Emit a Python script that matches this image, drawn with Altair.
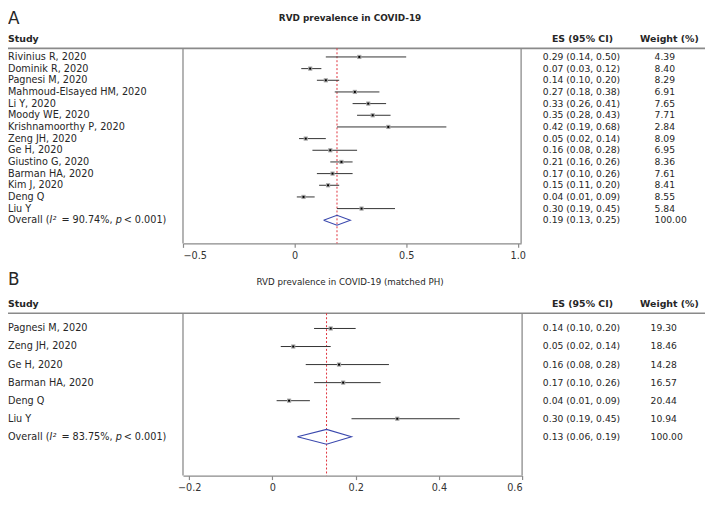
import altair as alt
import pandas as pd

# ---------------- data ----------------
studies_a = ["Rivinius R, 2020", "Dominik R, 2020", "Pagnesi M, 2020",
             "Mahmoud-Elsayed HM, 2020", "Li Y, 2020", "Moody WE, 2020",
             "Krishnamoorthy P, 2020", "Zeng JH, 2020", "Ge H, 2020",
             "Giustino G, 2020", "Barman HA, 2020", "Kim J, 2020", "Deng Q", "Liu Y"]
es_a = [0.29, 0.07, 0.14, 0.27, 0.33, 0.35, 0.42, 0.05, 0.16, 0.21, 0.17, 0.15, 0.04, 0.30]
lo_a = [0.14, 0.03, 0.10, 0.18, 0.26, 0.28, 0.19, 0.02, 0.08, 0.16, 0.10, 0.11, 0.01, 0.19]
hi_a = [0.50, 0.12, 0.20, 0.38, 0.41, 0.43, 0.68, 0.14, 0.28, 0.26, 0.26, 0.20, 0.09, 0.45]
w_a = [4.39, 8.40, 8.29, 6.91, 7.65, 7.71, 2.84, 8.09, 6.95, 8.36, 7.61, 8.41, 8.55, 5.84]
overall_a = [0.19, 0.13, 0.25]   # es, lo, hi
i2_a = "90.74"
ticks_a = [-0.5, 0, 0.5, 1.0]
title_a = "RVD prevalence in COVID-19"

studies_b = ["Pagnesi M, 2020", "Zeng JH, 2020", "Ge H, 2020", "Barman HA, 2020", "Deng Q", "Liu Y"]
es_b = [0.14, 0.05, 0.16, 0.17, 0.04, 0.30]
lo_b = [0.10, 0.02, 0.08, 0.10, 0.01, 0.19]
hi_b = [0.20, 0.14, 0.28, 0.26, 0.09, 0.45]
w_b = [19.30, 18.46, 14.28, 16.57, 20.44, 10.94]
overall_b = [0.13, 0.06, 0.19]
i2_b = "83.75"
ticks_b = [-0.2, 0, 0.2, 0.4, 0.6]
title_b = "RVD prevalence in COVID-19 (matched PH)"

# ---------------- layout ----------------
FONT = "DejaVu Sans"
W, H = 705, 489

def cx(ref):
    return ref - 8

def cyA(ref):
    return ref - 5

def cyB(ref):
    return 262 + (ref - 270) * 0.942

GRAY = "#8a8a8a"
TXT = "#262626"
RED = "#e0313b"
BLUE = "#3a48ad"
FS = 9.8
FS_COL = 9.3


def panel(letter, title, title_w, studies, es, lo, hi, w, overall, i2, ticks, xdom, xrng, cy,
          y_letter, y_title, y_study, y_line, y_row0, y_rowN, y_bottom, dia_h, es_x, w_x):
    n = len(studies)
    df = pd.DataFrame({"row": list(range(n)), "study": studies, "es": es, "lo": lo, "hi": hi,
                       "w": w})
    txt = pd.DataFrame({
        "row": list(range(n + 1)),
        "ci": [f"{e:.2f} ({l:.2f}, {h:.2f})" for e, l, h in
               zip(es + [overall[0]], lo + [overall[1]], hi + [overall[2]])],
        "wt": [f"{v:.2f}" for v in w] + ["100.00"],
    })
    ov = overall
    dia = pd.DataFrame({"o": [0, 1, 2, 3, 4],
                        "dx": [ov[1], ov[0], ov[2], ov[0], ov[1]],
                        "dy": [n, n - dia_h, n, n + dia_h, n]})
    xs = alt.Scale(domain=xdom, range=xrng)
    ys = alt.Scale(domain=[0, n], range=[cy(y_row0), cy(y_rowN)])
    ax = alt.Axis(values=ticks, orient="bottom", offset=cy(y_bottom) - H, title=None, grid=False,
                  labelExpr="datum.value == 0 ? '0' : format(datum.value, '.1f')",
                  domainColor=GRAY, domainWidth=1.4, tickColor=GRAY, tickWidth=1.2, tickSize=4,
                  labelFont=FONT, labelFontSize=9.8, labelColor="#333333", labelPadding=3)

    def X(f):
        return alt.X(f"{f}:Q", scale=xs, axis=ax)

    def Y(f="row"):
        return alt.Y(f"{f}:Q", scale=ys, axis=None)

    one = pd.DataFrame({"k": [0]})
    layers = []
    # header line
    layers.append(alt.Chart(one).mark_rule(color=GRAY, strokeWidth=1.6).encode(
        x=alt.value(0), x2=alt.value(W), y=alt.value(cy(y_line))))
    # box sides
    layers.append(alt.Chart(pd.DataFrame({"v": xdom})).mark_rule(color=GRAY, strokeWidth=1.3).encode(
        x=X("v"), y=alt.value(cy(y_line)), y2=alt.value(cy(y_bottom))))
    # overall line
    layers.append(alt.Chart(pd.DataFrame({"v": [ov[0]]})).mark_rule(
        color=RED, strokeWidth=1, strokeDash=[2, 2]).encode(
        x=X("v"), y=alt.value(cy(y_line)), y2=alt.value(cy(y_bottom))))
    # CIs
    layers.append(alt.Chart(df).mark_rule(color="#333333", strokeWidth=1).encode(
        x=X("lo"), x2="hi", y=Y()))
    layers.append(alt.Chart(df).mark_square(color="#a5a5a5", size=18, opacity=1).encode(
        x=X("es"), y=Y()))
    layers.append(alt.Chart(df).mark_square(color="#000000", size=4, opacity=1).encode(
        x=X("es"), y=Y()))
    # diamond
    layers.append(alt.Chart(dia).mark_line(color=BLUE, strokeWidth=1.1).encode(
        x=X("dx"), y=Y("dy"), order="o:Q"))
    # study labels
    layers.append(alt.Chart(df).mark_text(align="left", baseline="middle", font=FONT,
                                          fontSize=FS, color=TXT).encode(
        x=alt.value(0), y=Y(), text="study:N"))
    # overall label in segments (I and p in italics)
    segs = [("Overall (", 0, "normal"), ("I\u00b2", 42, "italic"),
            (f"= {i2}%,", 54, "normal"), ("p", 109, "italic"), ("< 0.001)", 117, "normal")]
    for s, off, st in segs:
        layers.append(alt.Chart(pd.DataFrame({"row": [n], "t": [s]})).mark_text(
            align="left", baseline="middle", font=FONT, fontSize=FS, color=TXT, fontStyle=st).encode(
            x=alt.value(off), y=Y(), text="t:N"))
    # ES and weight columns
    layers.append(alt.Chart(txt).mark_text(align="left", baseline="middle", font=FONT,
                                           fontSize=FS_COL, color=TXT).encode(
        x=alt.value(cx(es_x)), y=Y(), text="ci:N"))
    layers.append(alt.Chart(txt).mark_text(align="left", baseline="middle", font=FONT,
                                           fontSize=FS_COL, color=TXT).encode(
        x=alt.value(cx(w_x)), y=Y(), text="wt:N"))
    # panel letter, title, headers
    layers.append(alt.Chart(pd.DataFrame({"t": [letter]})).mark_text(
        align="left", baseline="top", font=FONT, fontSize=17, color=TXT).encode(
        x=alt.value(0), y=alt.value(cy(y_letter)), text="t:N"))
    layers.append(alt.Chart(pd.DataFrame({"t": [title]})).mark_text(
        align="center", baseline="middle", font=FONT, fontSize=title_w[0], fontWeight=title_w[1],
        color=TXT).encode(
        x=alt.value(cx(354)), y=alt.value(cy(y_title)), text="t:N"))
    for t, xx, al in [("Study", 0, "left"), ("ES (95% CI)", cx(589), "center"),
                      ("Weight (%)", cx(677), "center")]:
        layers.append(alt.Chart(pd.DataFrame({"t": [t]})).mark_text(
            align=al, baseline="middle", font=FONT, fontSize=9.5, fontWeight="bold", color=TXT).encode(
            x=alt.value(xx), y=alt.value(cy(y_study)), text="t:N"))
    return alt.layer(*layers)


pA = panel("A", title_a, (9, "bold"), studies_a, es_a, lo_a, hi_a, w_a, overall_a, i2_a, ticks_a,
           [-0.5, 1.015], [cx(185), cx(527)], cyA,
           y_letter=5, y_title=12, y_study=33.5, y_line=43, y_row0=51.7, y_rowN=216.9,
           y_bottom=240.3, dia_h=0.43, es_x=549, w_x=662)
pB = panel("B", title_b, (8.8, "normal"), studies_b, es_b, lo_b, hi_b, w_b, overall_b, i2_b, ticks_b,
           [-0.215, 0.6], [cx(185), cx(528)], cyB,
           y_letter=272, y_title=283, y_study=307, y_line=316.7, y_row0=333, y_rowN=449.3,
           y_bottom=491, dia_h=0.41, es_x=549, w_x=658)

chart = alt.layer(pA, pB).resolve_scale(x="independent", y="independent").properties(
    width=W, height=H, autosize=alt.AutoSizeParams(type="none"), padding=0
).configure_view(stroke=None)

chart.save("out.html", embed_options={"renderer": "svg", "actions": False})
